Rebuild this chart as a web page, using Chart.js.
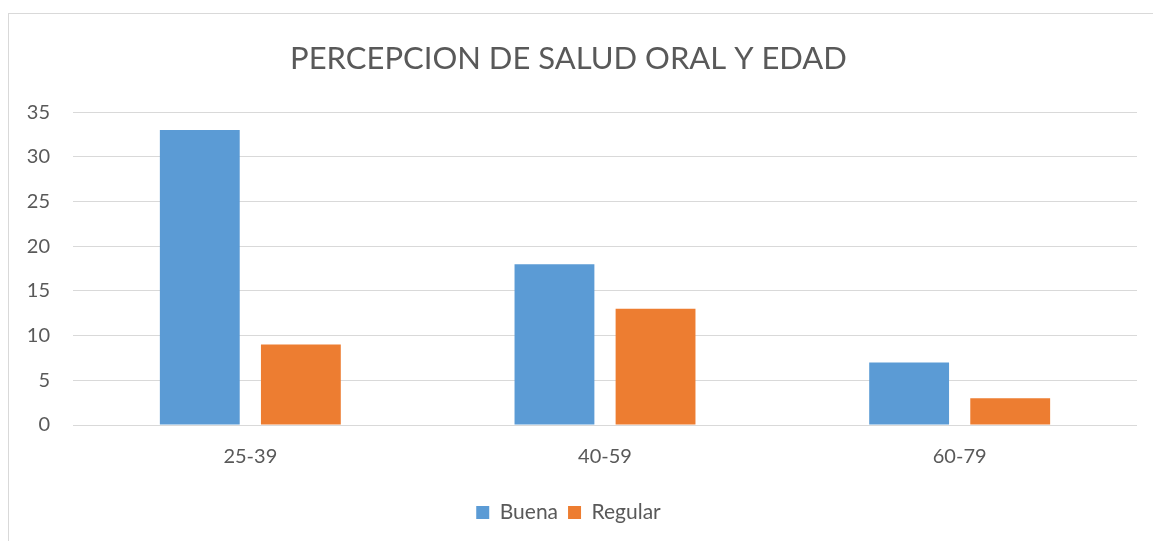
<!DOCTYPE html>
<html>
<head>
<meta charset="utf-8">
<script src="https://cdn.jsdelivr.net/npm/chart.js@4"></script>
<style>
  html, body { margin: 0; padding: 0; background: #fff; overflow: hidden; }
  .frame { position: absolute; left: 8px; top: 13px; width: 1200px; height: 600px;
           border-left: 1px solid #d9d9d9; border-top: 1px solid #d9d9d9; }
  .wrap { position: absolute; left: 0; top: 0; width: 1153px; height: 541px; }
</style>
</head>
<body>
<div class="frame"></div>
<div class="wrap"><canvas id="chart"></canvas></div>
<script>
const categories = ['25-39', '40-59', '60-79'];
const buena = [33, 18, 7];
const regular = [9, 13, 3];
const yTicks = [0, 5, 10, 15, 20, 25, 30, 35];

const FONT = 'Lato, "Open Sans", sans-serif';
const GREY = '#595959';

const ctx = document.getElementById('chart').getContext('2d');

const chart = new Chart(ctx, {
    type: 'bar',
    data: {
        labels: categories,
        datasets: [{
            label: 'Buena',
            data: buena,
            backgroundColor: '#5B9BD5'
        }, {
            label: 'Regular',
            data: regular,
            backgroundColor: '#ED7D31'
        }]
    },
    options: {
        responsive: true,
        maintainAspectRatio: false,
        animation: false,
        layout: { padding: { left: 0, right: 16, top: 0, bottom: 8 } },
        datasets: {
            bar: { categoryPercentage: 0.57, barPercentage: 0.79 }
        },
        plugins: {
            title: {
                display: true,
                text: 'PERCEPCION DE SALUD ORAL Y EDAD',
                color: GREY,
                font: { family: FONT, size: 31, weight: 'normal' },
                padding: { top: 40, bottom: 35 }
            },
            legend: {
                position: 'bottom',
                labels: {
                    color: GREY,
                    font: { family: FONT, size: 21 },
                    boxWidth: 13,
                    boxHeight: 13,
                    padding: 10
                }
            },
            tooltip: { enabled: false }
        },
        scales: {
            x: {
                grid: { display: false, drawTicks: false },
                border: { display: false },
                ticks: { color: GREY, font: { family: FONT, size: 20 }, padding: 20 },
                afterFit: (scale) => { scale.height = 67; }
            },
            y: {
                min: 0,
                max: 35,
                afterBuildTicks: (scale) => { scale.ticks = yTicks.map(v => ({ value: v })); },
                grid: { color: '#d9d9d9', lineWidth: 1, drawTicks: false },
                border: { display: false },
                ticks: { color: GREY, font: { family: FONT, size: 20 }, padding: 23 },
                afterFit: (scale) => { scale.width = 73; }
            }
        }
    }
});
</script>
</body>
</html>
